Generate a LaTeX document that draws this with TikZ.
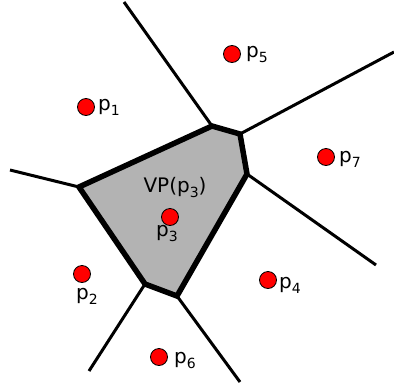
\documentclass[tikz,border=0pt]{standalone}
\usepackage{fontspec}
\setmainfont{DejaVu Sans}
\newcommand{\sbs}[1]{\raisebox{-0.25em}{\fontsize{14}{16}\selectfont #1}}
\begin{document}
\begin{tikzpicture}[x=1pt,y=-1pt,
  ray/.style={line width=3pt},
  cell/.style={line width=5.5pt,fill={rgb,255:red,179;green,179;blue,179},line join=miter},
  site/.style={circle,draw=black,line width=0.8pt,fill=red,minimum size=17pt,inner sep=0pt},
  lbl/.style={font=\fontsize{20}{24}\selectfont,inner sep=1pt}]
\useasboundingbox (0,0) rectangle (394,389);
\coordinate (A) at (79,187);
\coordinate (B) at (212,126);
\coordinate (C) at (240,134);
\coordinate (D) at (247,174);
\coordinate (E) at (177,296);
\coordinate (F) at (145,284);
\coordinate (rA) at (10,170);
\coordinate (rB) at (124,2);
\coordinate (rC) at (394,52);
\coordinate (rD) at (376,265);
\coordinate (rE) at (240,382);
\coordinate (rF) at (89,371);
\draw[ray] (A) -- (rA);
\draw[ray] (B) -- (rB);
\draw[ray] (C) -- (rC);
\draw[ray] (D) -- (rD);
\draw[ray] (E) -- (rE);
\draw[ray] (F) -- (rF);
\draw[cell] (A) -- (B) -- (C) -- (D) -- (E) -- (F) -- cycle;
\node[site] (p1) at (86,107) {};
\node[site] (p5) at (232,54) {};
\node[site] (p7) at (326,157) {};
\node[site] (p3) at (170,217) {};
\node[site] (p2) at (82,274) {};
\node[site] (p4) at (268,280) {};
\node[site] (p6) at (159,357) {};
\node[lbl,anchor=west] (l1) at (97,107) {p\sbs{1}};
\node[lbl,anchor=west] (l5) at (245,54) {p\sbs{5}};
\node[lbl,anchor=west] (l7) at (338,159) {p\sbs{7}};
\node[lbl,anchor=west] (l4) at (278,285) {p\sbs{4}};
\node[lbl,anchor=west] (l6) at (173,360) {p\sbs{6}};
\node[lbl] (l2) at (87,296) {p\sbs{2}};
\node[lbl] (l3) at (167,233) {p\sbs{3}};
\node[lbl] (vp) at (175,188) {VP(p\sbs{3})};
\end{tikzpicture}
\end{document}
